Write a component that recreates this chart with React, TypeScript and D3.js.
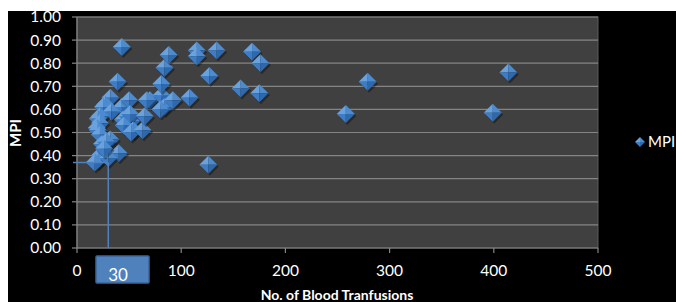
import React from "react";
import * as d3 from "d3";

const transfusions = [43, 39, 32, 27, 25, 43, 33, 22, 20, 44, 22, 19, 20, 22, 32, 24, 28, 40, 22, 20, 17, 30, 26, 50, 49, 52, 51, 54, 45, 52, 63, 65, 70, 67, 83, 81, 84, 80, 92, 81, 84, 88, 108, 115, 115, 134, 127, 126, 168, 176, 157, 175, 258, 279, 399, 414];
const mpi = [0.87, 0.72, 0.65, 0.62, 0.61, 0.61, 0.59, 0.57, 0.56, 0.555, 0.54, 0.52, 0.51, 0.49, 0.47, 0.45, 0.46, 0.41, 0.40, 0.38, 0.37, 0.39, 0.43, 0.64, 0.57, 0.55, 0.58, 0.51, 0.53, 0.50, 0.51, 0.57, 0.64, 0.64, 0.65, 0.66, 0.61, 0.60, 0.64, 0.71, 0.78, 0.835, 0.65, 0.855, 0.83, 0.855, 0.745, 0.36, 0.85, 0.80, 0.69, 0.67, 0.58, 0.72, 0.585, 0.76];
const xTicks = [0, 100, 200, 300, 400, 500];
const yTicks = [0, 0.1, 0.2, 0.3, 0.4, 0.5, 0.6, 0.7, 0.8, 0.9, 1.0];
const seriesName = "MPI";
const xTitle = "No. of Blood Tranfusions";
const yTitle = "MPI";
const markX = 30;
const markY = 0.37;
const markLabel = "30";

const W = 676;
const H = 302;
const font = "Lato, 'Open Sans', sans-serif";

function Diamond({ cx, cy, r }: { cx: number; cy: number; r: number }) {
  const t = [cx, cy - r];
  const b = [cx, cy + r];
  const l = [cx - r, cy];
  const rr = [cx + r, cy];
  const c = [cx, cy];
  const p = (pts: number[][]) => pts.map((q) => q.join(",")).join(" ");
  return (
    <g>
      <polygon points={p([[cx + 1.5, cy - r + 2], [cx + r + 1.5, cy + 2], [cx + 1.5, cy + r + 2], [cx - r + 1.5, cy + 2]])} fill="rgba(0,0,0,0.35)" />
      <polygon points={p([l, t, c])} fill="#6aa2dd" />
      <polygon points={p([t, rr, c])} fill="#4d8bd0" />
      <polygon points={p([l, b, c])} fill="#3e7dc5" />
      <polygon points={p([rr, b, c])} fill="#2f69ad" />
    </g>
  );
}

export default function App() {
  const x = d3.scaleLinear().domain([0, 500]).range([77, 598]);
  const y = d3.scaleLinear().domain([0, 1]).range([248, 17]);
  const fmt = d3.format(".2f");
  const pts = transfusions.map((v, i) => ({ x: v, y: mpi[i] }));

  return (
    <svg width={W} height={H} style={{ position: "absolute", left: 0, top: 0 }}>
      <rect x={0} y={0} width={W} height={H} fill="#ffffff" />
      <rect x={8} y={11} width={W - 8} height={H - 11} fill="#000000" />
      <rect x={x(0)} y={y(1)} width={x(500) - x(0)} height={y(0) - y(1)} fill="#404040" stroke="#5c5c5c" strokeWidth={1} />
      {yTicks.map((t) => (
        <g key={t}>
          {t > 0 && <line x1={x(0)} x2={x(500)} y1={y(t)} y2={y(t)} stroke="#858585" strokeWidth={1.2} />}
          <line x1={x(0) - 5} x2={x(0)} y1={y(t)} y2={y(t)} stroke="#858585" strokeWidth={1.2} />
          <text x={61} y={y(t)} dy="0.35em" textAnchor="end" fill="#ffffff" fontSize={15.5} fontFamily={font}>
            {fmt(t)}
          </text>
        </g>
      ))}
      <line x1={x(0)} x2={x(0)} y1={y(1)} y2={y(0)} stroke="#858585" strokeWidth={1.2} />
      <line x1={x(0)} x2={x(500)} y1={y(0)} y2={y(0)} stroke="#858585" strokeWidth={1.2} />
      {xTicks.map((t) => (
        <g key={t}>
          <line x1={x(t)} x2={x(t)} y1={y(0)} y2={y(0) + 5} stroke="#858585" strokeWidth={1.2} />
          <text x={x(t)} y={271} dy="0.35em" textAnchor="middle" fill="#ffffff" fontSize={15.5} fontFamily={font}>
            {t}
          </text>
        </g>
      ))}
      <text x={337} y={300} textAnchor="middle" fill="#ffffff" fontSize={14} fontWeight="bold" fontFamily={font}>
        {xTitle}
      </text>
      <text transform={`translate(21,133) rotate(-90)`} textAnchor="middle" fill="#ffffff" fontSize={15} fontWeight="bold" fontFamily={font}>
        {yTitle}
      </text>
      {pts.map((d, i) => (
        <Diamond key={i} cx={x(d.x)} cy={y(d.y)} r={9} />
      ))}
      <line x1={x(0) - 4} x2={x(markX)} y1={y(markY)} y2={y(markY)} stroke="#4f81bd" strokeWidth={1.5} />
      <line x1={x(markX)} x2={x(markX)} y1={y(markY)} y2={y(0)} stroke="#4f81bd" strokeWidth={1.5} />
      <rect x={96} y={256} width={53} height={27} fill="#4f81bd" stroke="#3a6599" strokeWidth={1.5} rx={1} />
      <text x={118} y={281} textAnchor="middle" fill="#ffffff" fontSize={17} fontFamily={font}>
        {markLabel}
      </text>
      <Diamond cx={640} cy={142} r={5} />
      <text x={648} y={142} dy="0.35em" fill="#ffffff" fontSize={15} fontFamily={font}>
        {seriesName}
      </text>
    </svg>
  );
}
